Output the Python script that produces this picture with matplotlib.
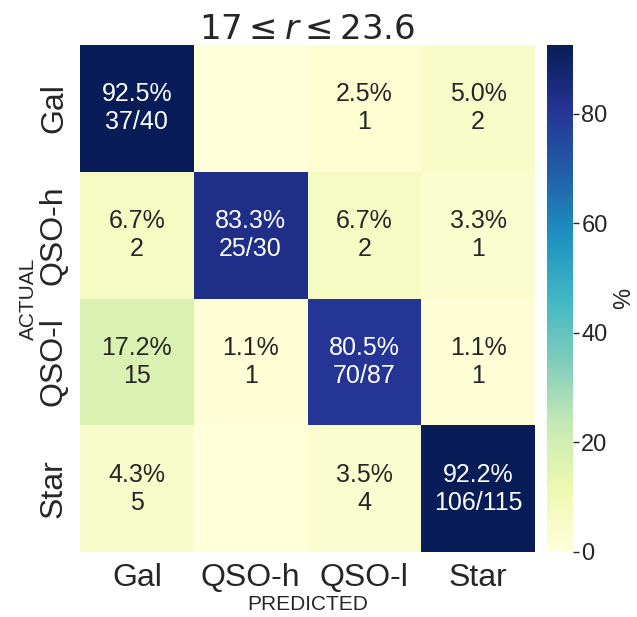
import numpy as np
import matplotlib
matplotlib.use("Agg")
import matplotlib.pyplot as plt
import seaborn as sns

classes = ["Gal", "QSO-h", "QSO-l", "Star"]
counts = np.array([
    [37, 0, 1, 2],
    [2, 25, 2, 1],
    [15, 1, 70, 1],
    [5, 0, 4, 106],
])
title = r"$17 \leq r \leq 23.6$"

sns.set_theme(style="white")
plt.rcParams["font.family"] = ["Liberation Sans", "DejaVu Sans"]

totals = counts.sum(axis=1, keepdims=True)
pct = counts / totals * 100

annot = np.empty(counts.shape, dtype=object)
for i in range(counts.shape[0]):
    for j in range(counts.shape[1]):
        c = counts[i, j]
        if c == 0:
            annot[i, j] = ""
        elif i == j:
            annot[i, j] = f"{pct[i, j]:.1f}%\n{c}/{totals[i, 0]}"
        else:
            annot[i, j] = f"{pct[i, j]:.1f}%\n{c}"

fig = plt.figure(figsize=(6.37, 6.17), dpi=100)
ax = fig.add_axes([80 / 637, 1 - 552 / 617, 455 / 637, 507 / 617])
cax = fig.add_axes([547 / 637, 1 - 552 / 617, 26 / 637, 507 / 617])

sns.heatmap(pct, annot=annot, fmt="", cmap="YlGnBu", vmin=0, vmax=pct.max(),
            ax=ax, cbar_ax=cax, annot_kws={"fontsize": 18},
            xticklabels=classes, yticklabels=classes,
            cbar_kws={"label": "%"})

ax.set_title(title, fontsize=24.5, pad=4)
ax.set_xlabel("PREDICTED", fontsize=15, labelpad=1)
ax.set_ylabel("ACTUAL", fontsize=15, labelpad=1)
ax.tick_params(axis="x", labelsize=23, rotation=0, pad=2)
ax.tick_params(axis="y", labelsize=23, rotation=90, pad=2)
for lbl in ax.get_yticklabels():
    lbl.set_va("center")

cax.tick_params(labelsize=17, length=4, width=1, color="#262626", pad=2)
cax.yaxis.label.set_size(17)

fig.savefig("out.png", dpi=100)
